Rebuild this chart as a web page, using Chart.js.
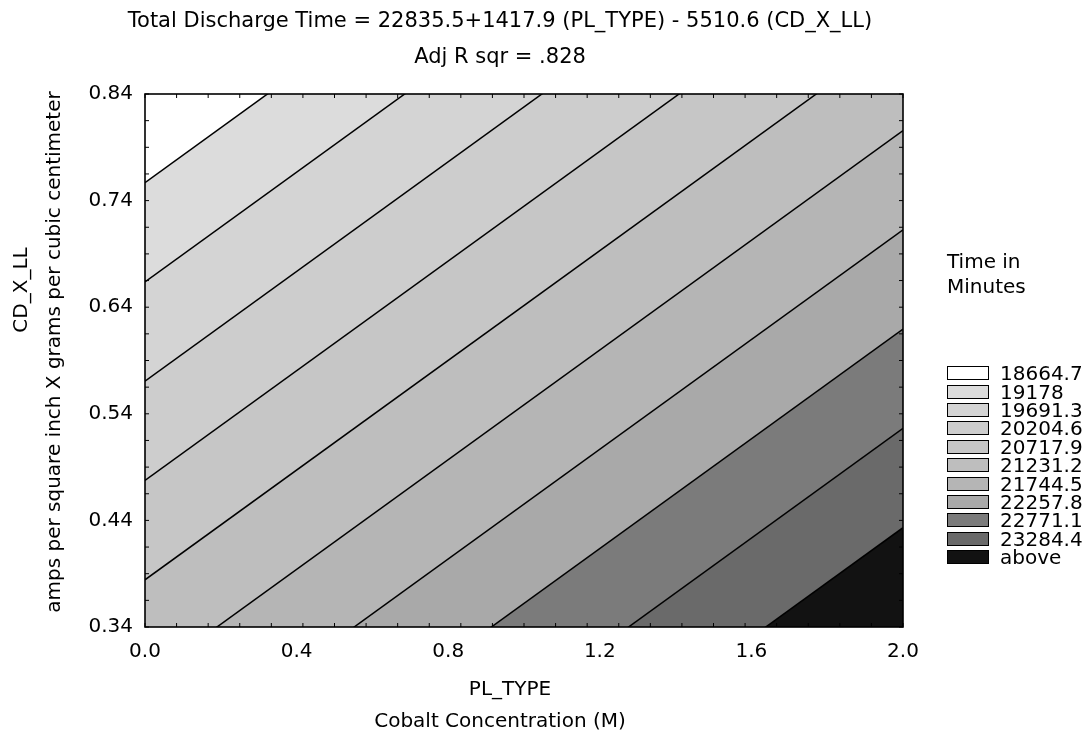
<!DOCTYPE html>
<html>
<head>
<meta charset="utf-8">
<script src="https://cdn.jsdelivr.net/npm/chart.js@4.4.0/dist/chart.umd.min.js"></script>
<style>
  html, body { margin: 0; padding: 0; background: #fff; }
  #wrap { position: relative; width: 1088px; height: 737px; font-family: "DejaVu Sans", sans-serif; }
  #chart { position: absolute; left: 0; top: 0; }
  #legend { position: absolute; left: 947px; top: 249px; color: #000; font-size: 20px; }
  #legend .lt { line-height: 25px; margin-bottom: 65px; }
  #legend .row { height: 18.4px; display: flex; align-items: center; }
  #legend .sw { width: 40px; height: 12px; border: 1px solid #000; margin-right: 11px; }
  #legend .lb { line-height: 18px; }
</style>
</head>
<body>
<div id="wrap">
  <canvas id="chart" width="1088" height="737"></canvas>
  <div id="legend">
    <div class="lt">Time in<br>Minutes</div>
    <div id="items"></div>
  </div>
</div>
<script>
// regression from the title: Time = intercept + coefPL*PL_TYPE + coefCD*CD_X_LL
const intercept = 22835.5;
const coefPL = 1417.9;
const coefCD = -5510.6;

// contour levels (legend)
const levels = [18664.7, 19178, 19691.3, 20204.6, 20717.9, 21231.2, 21744.5, 22257.8, 22771.1, 23284.4];
const legendLabels = ['18664.7', '19178', '19691.3', '20204.6', '20717.9', '21231.2', '21744.5', '22257.8', '22771.1', '23284.4', 'above'];

const xTicks = [0, 0.4, 0.8, 1.2, 1.6, 2.0];
const yTicks = [0.34, 0.44, 0.54, 0.64, 0.74, 0.84];
const xRange = [0, 2];
const yRange = [0.34, 0.84];

// greys for each band, lowest level first
const bandColors = ['#ffffff', '#dcdcdc', '#d4d4d4', '#cdcdcd', '#c6c6c6', '#bebebe', '#b5b5b5', '#a9a9a9', '#7b7b7b', '#6a6a6a', '#121212'];

const FONT = '"DejaVu Sans", sans-serif';

// CD_X_LL on a contour line for a given PL_TYPE
function lineY(level, x) {
  return (intercept + coefPL * x - level) / (-coefCD);
}
function linePoints(level) {
  return xRange.map(x => ({ x: x, y: lineY(level, x) }));
}

const datasets = levels.map((lv, i) => ({
  type: 'line',
  data: linePoints(lv),
  borderColor: '#000',
  borderWidth: 1.5,
  backgroundColor: bandColors[i],
  fill: i === 0 ? 'end' : '-1',
  pointRadius: 0,
  clip: 0
}));
// region above the last level
datasets.push({
  type: 'line',
  data: linePoints(levels[levels.length - 1]),
  borderWidth: 0,
  borderColor: 'rgba(0,0,0,0)',
  backgroundColor: bandColors[bandColors.length - 1],
  fill: 'start',
  pointRadius: 0,
  clip: 0
});

// frame, inward minor ticks and axis titles
const decor = {
  id: 'decor',
  afterDatasetsDraw(chart) {
    const ctx = chart.ctx, a = chart.chartArea;
    const xs = chart.scales.x, ys = chart.scales.y;
    ctx.save();
    ctx.strokeStyle = '#000';
    ctx.lineWidth = 1;
    ctx.beginPath();
    for (let v = 0; v <= 2.0001; v += 2 / 24) {
      const px = xs.getPixelForValue(v);
      ctx.moveTo(px, a.top); ctx.lineTo(px, a.top + 4);
      ctx.moveTo(px, a.bottom); ctx.lineTo(px, a.bottom - 4);
    }
    for (let v = 0.34; v <= 0.8401; v += 0.025) {
      const py = ys.getPixelForValue(v);
      ctx.moveTo(a.left, py); ctx.lineTo(a.left + 4, py);
      ctx.moveTo(a.right, py); ctx.lineTo(a.right - 4, py);
    }
    ctx.stroke();
    ctx.lineWidth = 1.6;
    ctx.strokeRect(a.left, a.top, a.right - a.left, a.bottom - a.top);
    ctx.restore();
  },
  afterDraw(chart) {
    const ctx = chart.ctx;
    ctx.save();
    ctx.fillStyle = '#000';
    ctx.font = '20px ' + FONT;
    ctx.textAlign = 'center';
    ctx.textBaseline = 'middle';
    ctx.fillText('PL_TYPE', 510, 690);
    ctx.fillText('Cobalt Concentration (M)', 500, 722);
    ctx.translate(22, 290);
    ctx.rotate(-Math.PI / 2);
    ctx.fillText('CD_X_LL', 0, 0);
    ctx.restore();
    ctx.save();
    ctx.fillStyle = '#000';
    ctx.font = '20px ' + FONT;
    ctx.textAlign = 'center';
    ctx.textBaseline = 'middle';
    ctx.translate(55, 352);
    ctx.rotate(-Math.PI / 2);
    ctx.fillText('amps per square inch X grams per cubic centimeter', 0, 0);
    ctx.restore();
  }
};

new Chart(document.getElementById('chart'), {
  type: 'line',
  data: { datasets: datasets },
  options: {
    responsive: false,
    animation: false,
    layout: { padding: { left: 0, right: 88, top: 0, bottom: 0 } },
    plugins: {
      legend: { display: false },
      tooltip: { enabled: false },
      filler: { drawTime: 'beforeDatasetsDraw' },
      title: {
        display: true,
        text: ['Total Discharge Time = 22835.5+1417.9 (PL_TYPE) - 5510.6 (CD_X_LL)', 'Adj R sqr = .828'],
        color: '#000',
        font: { family: FONT, size: 21, weight: 'normal', lineHeight: 36 / 21 },
        padding: { top: 4, bottom: 18 }
      }
    },
    scales: {
      x: {
        type: 'linear',
        min: xRange[0],
        max: xRange[1],
        afterBuildTicks: s => { s.ticks = xTicks.map(v => ({ value: v })); },
        afterFit: s => { s.height = 110; },
        grid: { display: false },
        border: { display: false },
        ticks: {
          color: '#000',
          font: { family: FONT, size: 20 },
          padding: 5,
          maxRotation: 0,
          callback: v => v.toFixed(1)
        }
      },
      y: {
        type: 'linear',
        min: yRange[0],
        max: yRange[1],
        afterBuildTicks: s => { s.ticks = yTicks.map(v => ({ value: v })); },
        afterFit: s => { s.width = 145; },
        grid: { display: false },
        border: { display: false },
        ticks: {
          color: '#000',
          font: { family: FONT, size: 20 },
          padding: 4,
          callback: v => v.toFixed(2)
        }
      },
      // empty right-hand box that keeps room for the legend
      yr: {
        type: 'linear',
        position: 'right',
        display: true,
        min: yRange[0],
        max: yRange[1],
        afterFit: s => { s.width = 97; },
        grid: { display: false },
        border: { display: false },
        ticks: { display: false }
      }
    }
  },
  plugins: [decor]
});

// legend
const items = document.getElementById('items');
legendLabels.forEach((lb, i) => {
  const row = document.createElement('div');
  row.className = 'row';
  row.innerHTML = '<div class="sw" style="background:' + bandColors[i] + '"></div><div class="lb">' + lb + '</div>';
  items.appendChild(row);
});
</script>
</body>
</html>
